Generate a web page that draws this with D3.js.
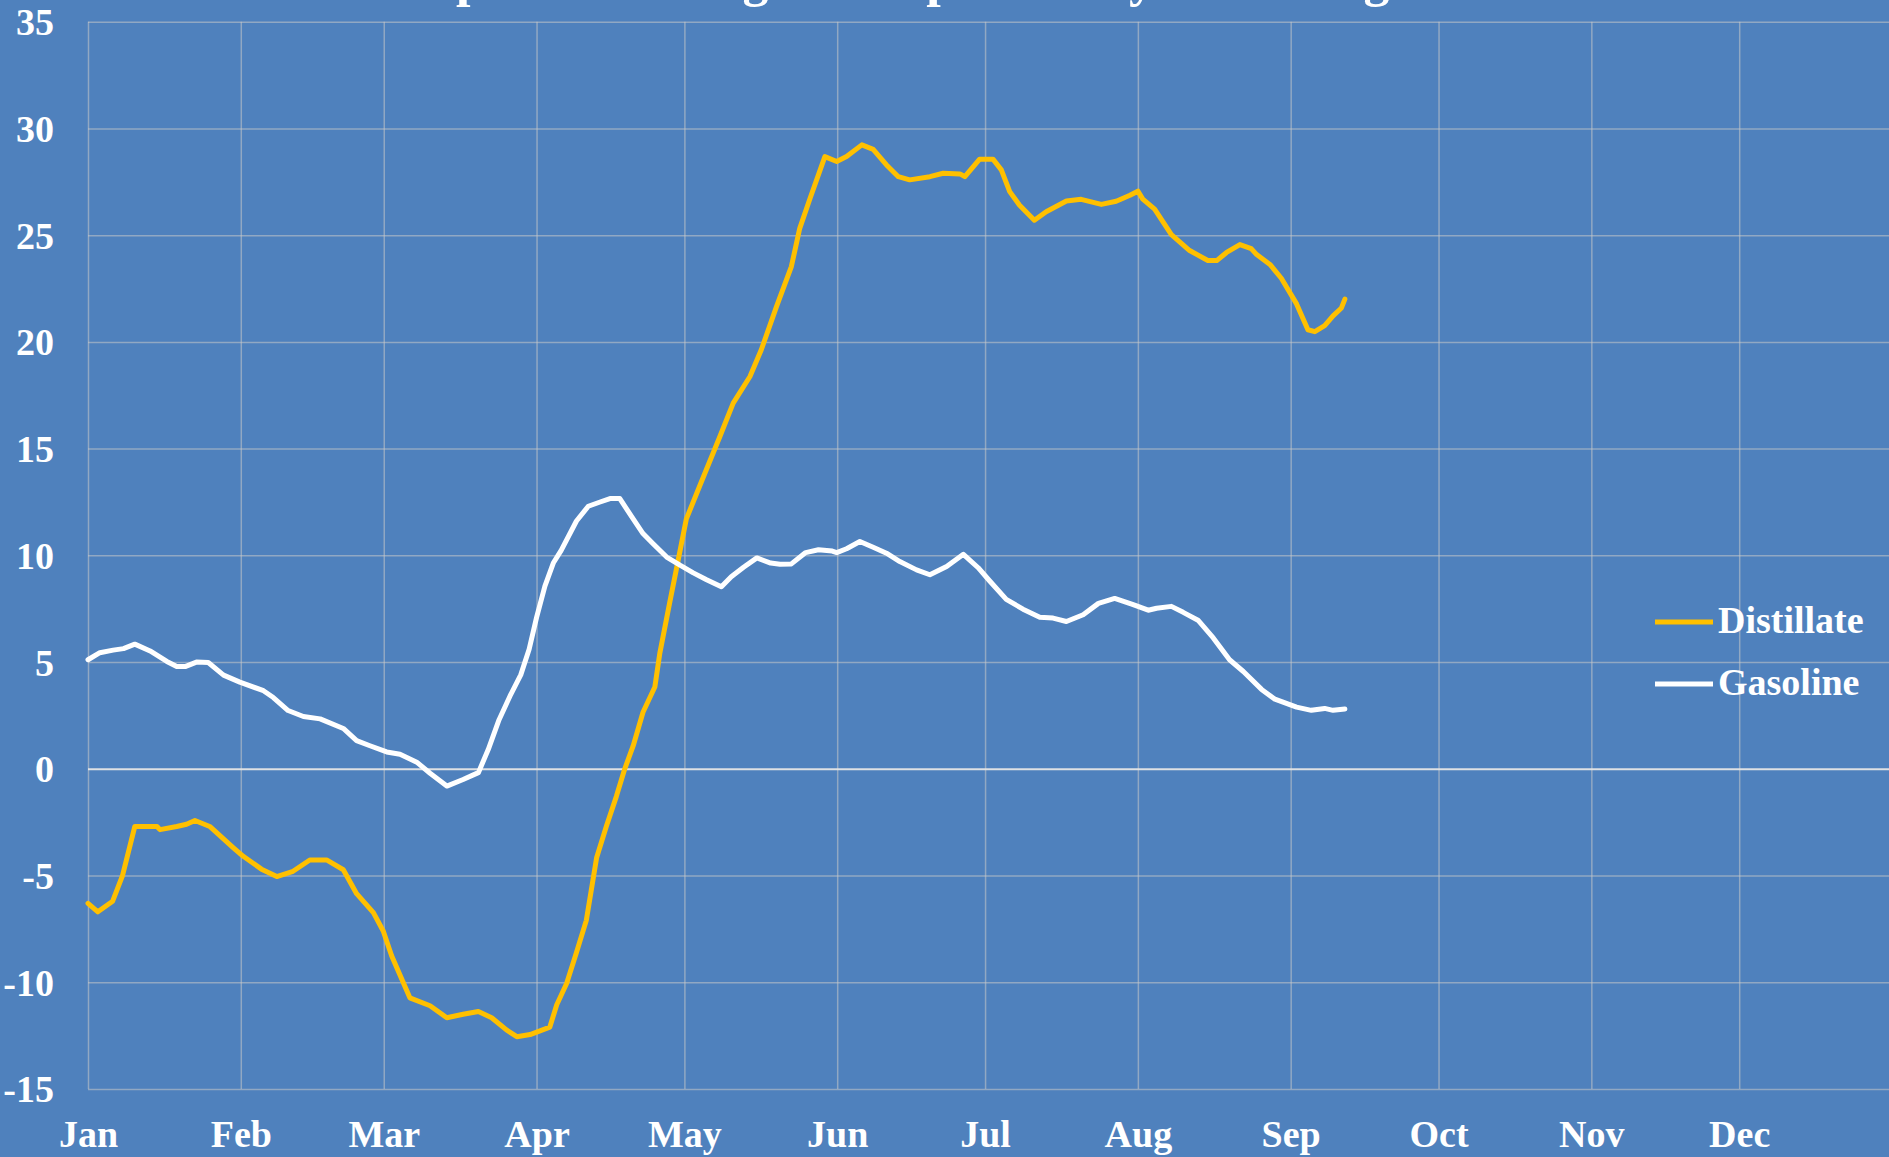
<!DOCTYPE html>
<html>
<head>
<meta charset="utf-8">
<script src="https://cdn.jsdelivr.net/npm/d3@7"></script>
<style>
  html, body { margin: 0; padding: 0; background: #4F81BD; overflow: hidden; }
  text { font-family: "Liberation Serif", "DejaVu Serif", serif; font-weight: bold; fill: #fff; }
</style>
</head>
<body>
<div id="chart"></div>
<script>
var monthLabels = ["Jan", "Feb", "Mar", "Apr", "May", "Jun", "Jul", "Aug", "Sep", "Oct", "Nov", "Dec"];
var yTicks = [-15, -10, -5, 0, 5, 10, 15, 20, 25, 30, 35];
var seriesNames = ["Distillate", "Gasoline"];

// days counted from Jan 1 2020
var distillateDays = [0, 2, 5, 7, 9.5, 14, 14.6, 18, 20, 21.7, 24.7, 29.5, 31.5, 35.2, 38.3, 41.6, 45, 48.4, 51.8, 54.5,
  57.9, 59.9, 61.6, 65.3, 69.4, 72.8, 76.1, 79.2, 81.9, 84.9, 87, 89.7, 93.7, 95.1, 97.1, 99.1, 101.1, 103.2, 105.2, 107.2,
  108.9, 110.6, 112.6, 115, 116, 118, 119.5, 121.4, 124.1, 128.2, 130.9, 134.3, 136.6, 139.7, 142.7, 144.4, 146.5, 149.5, 151.9, 153.9,
  157, 159.3, 162, 164.4, 166.7, 170.8, 173.5, 176.9, 177.9, 180.9, 183.6, 185.3, 187, 189, 192, 194.4, 198.5, 201.5, 205.6, 208.6,
  211.4, 213, 214, 216.4, 219.8, 223.5, 227.2, 229, 231, 233.7, 236, 237.1, 239.8, 242.1, 245.2, 247.5, 248.9, 250.9, 252.6, 254.3, 255];
var distillateValues = [-6.3, -6.7, -6.2, -5.0, -2.7, -2.7, -2.85, -2.7, -2.6, -2.42, -2.7, -3.7, -4.1, -4.7, -5.05, -4.8, -4.27, -4.27, -4.73, -5.85,
  -6.74, -7.6, -8.76, -10.73, -11.1, -11.66, -11.5, -11.37, -11.66, -12.23, -12.55, -12.45, -12.1, -11.05, -10.06, -8.6, -7.1, -4.15, -2.67, -1.29,
  0, 1.07, 2.65, 3.83, 5.4, 7.77, 9.5, 11.71, 13.25, 15.57, 17.13, 18.38, 19.63, 21.66, 23.53, 25.32, 26.73, 28.68, 28.45, 28.68,
  29.23, 29.02, 28.29, 27.74, 27.59, 27.74, 27.9, 27.87, 27.74, 28.56, 28.56, 28.06, 27.04, 26.4, 25.7, 26.1, 26.6, 26.68, 26.44, 26.59,
  26.87, 27.06, 26.69, 26.22, 25.02, 24.28, 23.81, 23.81, 24.19, 24.56, 24.37, 24.09, 23.63, 22.98, 21.78, 20.57, 20.48, 20.76, 21.22, 21.59, 22.0];

var gasolineDays = [0, 2.4, 5.1, 7.2, 9.5, 12.6, 16, 18, 19.7, 22, 24.4, 27.5, 30.8, 35.6, 37.6, 40.6, 43.7, 47.1, 51.8, 54.5,
  57.2, 60.6, 63.3, 66.7, 69.4, 72.8, 76.1, 79.2, 81.2, 83.4, 85.6, 87.8, 89.5, 91, 92.7, 94.4, 96, 99.1, 101.5, 103.9,
  105.9, 107.9, 110.3, 112.6, 114.7, 117.4, 120.1, 122.8, 125.5, 128.5, 130.5, 133, 135.7, 138.5, 140.4, 142.7, 145.6, 148.2, 151, 151.9,
  153.9, 156.6, 159.3, 162, 164.7, 168.1, 170.8, 174.2, 177.6, 180.6, 182.9, 186.3, 189.7, 193.1, 195.8, 198.5, 201.9, 205, 208.3, 211.9,
  215.1, 216.8, 219.8, 222.2, 225.2, 228.3, 231.6, 234.4, 238.1, 240.8, 245.2, 248.2, 250.9, 252.6, 255];
var gasolineValues = [5.11, 5.44, 5.56, 5.63, 5.84, 5.52, 5.03, 4.79, 4.79, 5.0, 4.98, 4.39, 4.06, 3.66, 3.34, 2.73, 2.45, 2.34, 1.89, 1.32,
  1.08, 0.79, 0.68, 0.31, -0.21, -0.81, -0.5, -0.18, 0.9, 2.3, 3.4, 4.4, 5.6, 7.08, 8.56, 9.64, 10.23, 11.61, 12.3, 12.5,
  12.66, 12.66, 11.81, 11.02, 10.53, 9.92, 9.54, 9.18, 8.86, 8.53, 9.0, 9.44, 9.88, 9.64, 9.58, 9.6, 10.13, 10.26, 10.2, 10.13,
  10.31, 10.65, 10.38, 10.1, 9.71, 9.32, 9.09, 9.48, 10.05, 9.42, 8.81, 7.94, 7.48, 7.1, 7.06, 6.9, 7.22, 7.75, 7.98, 7.7,
  7.43, 7.52, 7.61, 7.33, 6.96, 6.13, 5.11, 4.56, 3.72, 3.26, 2.89, 2.74, 2.83, 2.74, 2.8];

function init(){
    var w = 1889;
    var h = 1157;
    var left = 88, top = 21.7, right = 1892, bottom = 1089;
    var colors = ["#FFC000", "#FFFFFF"];

    var start = Date.UTC(2020, 0, 1);
    function dayToDate(d){ return new Date(start + d * 864e5); }

    var svg = d3.select("#chart")
                .append("svg")
                .attr("width", w)
                .attr("height", h)
                .style("display", "block");

    svg.append("rect").attr("width", w).attr("height", h).attr("fill", "#4F81BD");

    var x = d3.scaleUtc()
        .domain([new Date(start), new Date(Date.UTC(2021, 0, 1))])
        .range([left, right]);
    var y = d3.scaleLinear().domain([-15, 35]).range([bottom, top]);

    var monthStarts = d3.utcMonth.range(new Date(start), new Date(Date.UTC(2021, 0, 1)));

    // vertical grid
    svg.append("g")
        .attr("transform", "translate(0," + bottom + ")")
        .call(d3.axisBottom(x).tickValues(monthStarts).tickSize(-(bottom - top)).tickFormat(""))
        .call(function(g){
            g.select(".domain").remove();
            g.selectAll("line").attr("stroke", "#C8C8C8").attr("stroke-opacity", 0.55).attr("stroke-width", 1.5);
        });

    // horizontal grid
    svg.append("g")
        .attr("transform", "translate(" + left + ",0)")
        .call(d3.axisLeft(y).tickValues(yTicks).tickSize(-(w - left)).tickFormat(""))
        .call(function(g){
            g.select(".domain").remove();
            g.selectAll("line")
                .attr("stroke", function(d){ return d === 0 ? "#E6E6E6" : "#C8C8C8"; })
                .attr("stroke-opacity", function(d){ return d === 0 ? 0.95 : 0.55; })
                .attr("stroke-width", function(d){ return d === 0 ? 2 : 1.5; });
        });

    // y labels (plain hyphen minus like the original)
    svg.append("g")
        .attr("transform", "translate(" + 54 + ",0)")
        .call(d3.axisLeft(y).tickValues(yTicks).tickSize(0).tickPadding(0)
            .tickFormat(function(d){ return String(d); }))
        .call(function(g){
            g.select(".domain").remove();
            g.selectAll("text")
                .attr("font-size", "38px")
                .attr("font-family", null)
                .attr("fill", null)
                .attr("dy", "0.34em");
        });

    // x labels
    svg.append("g")
        .attr("transform", "translate(0," + 1120 + ")")
        .call(d3.axisBottom(x).tickValues(monthStarts).tickSize(0).tickPadding(0)
            .tickFormat(function(d, i){ return monthLabels[i]; }))
        .call(function(g){
            g.select(".domain").remove();
            g.selectAll("text")
                .attr("font-size", "38px")
                .attr("font-family", null)
                .attr("fill", null)
                .attr("dy", "0.71em");
        });

    var line = d3.line()
        .x(function(d){ return x(dayToDate(d[0])); })
        .y(function(d){ return y(d[1]); });

    var series = [
        d3.zip(distillateDays, distillateValues),
        d3.zip(gasolineDays, gasolineValues)
    ];

    svg.selectAll(".series")
        .data(series)
        .enter()
        .append("path")
        .attr("class", "series")
        .attr("d", line)
        .attr("fill", "none")
        .attr("stroke", function(d, i){ return colors[i]; })
        .attr("stroke-width", 5)
        .attr("stroke-linejoin", "round")
        .attr("stroke-linecap", "round");

    // legend
    var legend = svg.append("g");
    seriesNames.forEach(function(name, i){
        var ly = 622 + i * 62;
        legend.append("line")
            .attr("x1", 1655).attr("x2", 1713)
            .attr("y1", ly).attr("y2", ly)
            .attr("stroke", colors[i])
            .attr("stroke-width", 5);
        legend.append("text")
            .attr("x", 1718)
            .attr("y", ly + 11)
            .attr("font-size", "38px")
            .text(name);
    });

    // title, mostly above the top edge
    var title = svg.append("text")
        .attr("y", -4)
        .attr("font-size", "52px")
        .text("Inventories: percent change from previous year average");
    var t = title.text();
    var off = title.node().getSubStringLength(0, t.indexOf("percent"));
    title.attr("x", 456 - off);
}
window.onload = init;
</script>
</body>
</html>
